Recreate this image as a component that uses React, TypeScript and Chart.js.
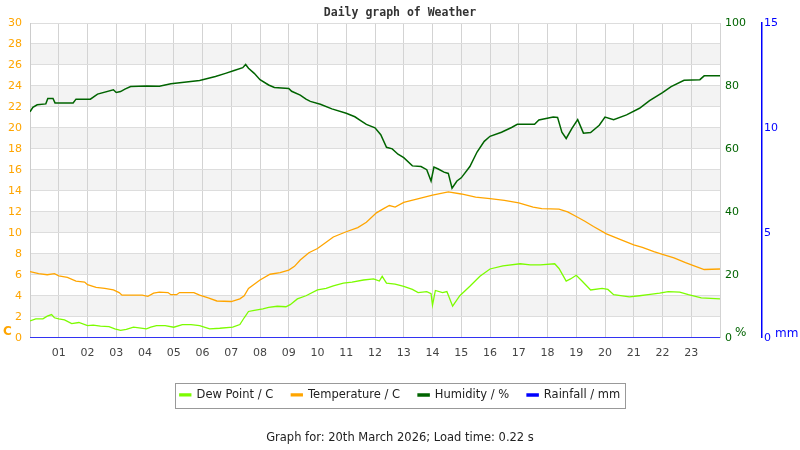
import { useEffect, useRef } from "react";
import { Chart, registerables } from "chart.js";

Chart.register(...registerables);

const tempHours = [0, 0.3, 0.6, 0.85, 1.0, 1.3, 1.6, 1.9, 2.0, 2.3, 2.6, 2.9, 3.1, 3.2, 3.5, 3.9, 4.1, 4.3, 4.5, 4.8, 4.9, 5.1, 5.2, 5.7, 5.9, 6.2, 6.5, 7.0, 7.3, 7.45, 7.6, 8.0, 8.35, 8.7, 9.0, 9.2, 9.4, 9.7, 10.0, 10.3, 10.55, 11.0, 11.4, 11.7, 12.05, 12.3, 12.5, 12.7, 13.0, 13.45, 14.0, 14.55, 15.0, 15.5, 16.0, 16.5, 17.0, 17.5, 17.8, 18.4, 18.7, 19.0, 19.3, 19.6, 20.05, 20.5, 21.0, 21.3, 21.7, 22.0, 22.4, 22.8, 23.1, 23.45, 24.0];
const tempValues = [6.3, 6.1, 6.0, 6.1, 5.9, 5.75, 5.4, 5.3, 5.05, 4.8, 4.7, 4.55, 4.3, 4.05, 4.05, 4.05, 3.95, 4.25, 4.35, 4.3, 4.1, 4.1, 4.3, 4.3, 4.05, 3.8, 3.5, 3.45, 3.7, 4.0, 4.7, 5.5, 6.05, 6.2, 6.45, 6.8, 7.4, 8.1, 8.5, 9.1, 9.6, 10.1, 10.5, 11.0, 11.9, 12.3, 12.6, 12.45, 12.9, 13.2, 13.6, 13.9, 13.7, 13.4, 13.25, 13.1, 12.85, 12.45, 12.3, 12.25, 12.0, 11.55, 11.1, 10.6, 9.9, 9.4, 8.85, 8.6, 8.2, 7.95, 7.6, 7.15, 6.85, 6.5, 6.55];

const dewHours = [0, 0.2, 0.45, 0.6, 0.75, 0.85, 1.0, 1.2, 1.45, 1.7, 2.0, 2.2, 2.45, 2.75, 2.95, 3.15, 3.35, 3.6, 4.05, 4.2, 4.4, 4.7, 5.0, 5.3, 5.6, 5.9, 6.25, 6.6, 7.05, 7.3, 7.45, 7.6, 7.8, 8.1, 8.3, 8.6, 8.9, 9.05, 9.3, 9.6, 10.0, 10.3, 10.55, 10.9, 11.2, 11.6, 11.95, 12.15, 12.25, 12.4, 12.7, 13.0, 13.3, 13.5, 13.8, 13.95, 14.0, 14.1, 14.35, 14.5, 14.7, 14.95, 15.3, 15.65, 16.0, 16.45, 17.05, 17.4, 17.75, 18.25, 18.4, 18.65, 18.8, 19.0, 19.2, 19.5, 19.9, 20.1, 20.3, 20.85, 21.2, 21.5, 21.9, 22.2, 22.6, 22.9, 23.35, 24.0];
const dewValues = [1.6, 1.8, 1.8, 2.05, 2.2, 1.9, 1.8, 1.7, 1.35, 1.45, 1.15, 1.2, 1.1, 1.05, 0.85, 0.7, 0.8, 1.0, 0.85, 1.0, 1.15, 1.15, 1.0, 1.25, 1.25, 1.15, 0.85, 0.9, 1.0, 1.25, 1.9, 2.5, 2.6, 2.75, 2.9, 3.0, 2.95, 3.15, 3.7, 4.0, 4.55, 4.7, 4.95, 5.2, 5.3, 5.5, 5.6, 5.4, 5.85, 5.2, 5.1, 4.9, 4.6, 4.3, 4.4, 4.2, 3.1, 4.5, 4.3, 4.4, 3.0, 4.0, 4.9, 5.85, 6.55, 6.85, 7.05, 6.95, 6.95, 7.05, 6.6, 5.4, 5.6, 5.95, 5.4, 4.55, 4.7, 4.6, 4.1, 3.9, 4.0, 4.1, 4.25, 4.4, 4.35, 4.1, 3.8, 3.7];

const humidityHours = [0, 0.1, 0.25, 0.55, 0.62, 0.8, 0.87, 1.5, 1.6, 2.1, 2.35, 2.9, 3.0, 3.15, 3.3, 3.5, 4.05, 4.5, 4.9, 5.9, 6.45, 6.8, 7.1, 7.4, 7.5, 7.6, 7.8, 8.0, 8.3, 8.5, 9.0, 9.1, 9.4, 9.6, 9.75, 10.1, 10.5, 11.0, 11.3, 11.5, 11.7, 12.0, 12.2, 12.4, 12.6, 12.8, 13.0, 13.3, 13.6, 13.8, 13.95, 14.05, 14.2, 14.4, 14.55, 14.68, 14.85, 15.0, 15.3, 15.55, 15.8, 16.0, 16.4, 16.75, 16.95, 17.55, 17.7, 18.2, 18.35, 18.5, 18.65, 18.85, 19.05, 19.25, 19.5, 19.8, 20.0, 20.3, 20.75, 21.2, 21.55, 22.0, 22.3, 22.75, 23.3, 23.45, 24.0];
const humidityValues = [71.8, 73.2, 74.0, 74.3, 76.0, 76.0, 74.6, 74.6, 75.8, 75.8, 77.4, 78.8, 77.9, 78.2, 79.0, 79.8, 80.0, 79.9, 80.7, 81.7, 83.0, 84.0, 84.9, 85.8, 86.8, 85.6, 84.0, 82.0, 80.3, 79.5, 79.2, 78.3, 77.1, 75.8, 75.1, 74.2, 72.7, 71.3, 70.2, 69.0, 67.8, 66.7, 64.5, 60.5, 60.0, 58.3, 57.2, 54.6, 54.4, 53.4, 49.8, 54.2, 53.6, 52.6, 52.2, 47.5, 49.8, 50.8, 54.4, 59.0, 62.4, 64.0, 65.3, 66.8, 67.8, 67.8, 69.2, 70.1, 70.0, 65.3, 63.3, 66.5, 69.3, 65.0, 65.2, 67.5, 70.1, 69.3, 70.8, 72.9, 75.3, 77.9, 79.8, 81.8, 82.0, 83.2, 83.2];

const rainHours = [0, 24];
const rainValues = [0, 0];

const hourLabels = ["01", "02", "03", "04", "05", "06", "07", "08", "09", "10", "11", "12", "13", "14", "15", "16", "17", "18", "19", "20", "21", "22", "23"];

const toPoints = (xs: number[], ys: number[]) => xs.map((x, i) => ({ x, y: ys[i] }));

// grey bands every other 2 degree step
const bandsPlugin = {
  id: "bands",
  beforeDraw(chart: any) {
    const { ctx, chartArea, scales } = chart;
    const y = scales.y;
    ctx.save();
    ctx.fillStyle = "#f3f3f3";
    for (let v = 2; v < 30; v += 4) {
      const top = y.getPixelForValue(v + 2);
      const bottom = y.getPixelForValue(v);
      ctx.fillRect(chartArea.left, top, chartArea.right - chartArea.left, bottom - top);
    }
    ctx.restore();
  },
};

const legendBoxPlugin = {
  id: "legendBox",
  afterDraw(chart: any) {
    const boxes = chart.legend?.legendHitBoxes;
    if (!boxes || !boxes.length) return;
    const ctx = chart.ctx;
    const left = Math.min(...boxes.map((b: any) => b.left)) - 5;
    const right = Math.max(...boxes.map((b: any) => b.left + b.width)) + 5;
    const top = boxes[0].top - 6.5;
    const bottom = boxes[0].top + boxes[0].height + 6.5;
    ctx.save();
    ctx.strokeStyle = "#999999";
    ctx.lineWidth = 1;
    ctx.strokeRect(Math.round(left) + 0.5, Math.round(top) + 0.5, Math.round(right - left), Math.round(bottom - top));
    ctx.restore();
  },
};

const unitsPlugin = {
  id: "units",
  afterDraw(chart: any) {
    const { ctx, chartArea, scales } = chart;
    ctx.save();
    ctx.textBaseline = "middle";
    ctx.textAlign = "left";
    ctx.font = "bold 12px 'DejaVu Sans'";
    ctx.fillStyle = "#ffa500";
    ctx.fillText("C", 3, chartArea.bottom - 5.5);
    ctx.font = "12px 'DejaVu Sans'";
    ctx.fillStyle = "#006400";
    ctx.fillText("%", chartArea.right + 15, chartArea.bottom - 4.5);
    ctx.fillStyle = "#0000ff";
    ctx.fillText("mm", scales.y2.left + 13, chartArea.bottom - 3.5);
    ctx.restore();
  },
};

function WeatherChart() {
  const chartRef = useRef<HTMLCanvasElement>(null);
  const chartInstance = useRef<Chart | null>(null);

  useEffect(() => {
    if (!chartRef.current) return;
    const ctx = chartRef.current.getContext("2d");
    if (!ctx) return;

    if (chartInstance.current) {
      chartInstance.current.destroy();
    }

    Chart.defaults.font.family = "'DejaVu Sans'";

    chartInstance.current = new Chart(ctx, {
      type: "line",
      data: {
        datasets: [
          {
            label: "Dew Point / C",
            data: toPoints(dewHours, dewValues),
            borderColor: "#7cfc00",
            backgroundColor: "#7cfc00",
            borderWidth: 1.3,
            pointRadius: 0,
            yAxisID: "y",
          },
          {
            label: "Temperature / C",
            data: toPoints(tempHours, tempValues),
            borderColor: "#ffa500",
            backgroundColor: "#ffa500",
            borderWidth: 1.3,
            pointRadius: 0,
            yAxisID: "y",
          },
          {
            label: "Humidity / %",
            data: toPoints(humidityHours, humidityValues),
            borderColor: "#006400",
            backgroundColor: "#006400",
            borderWidth: 1.5,
            pointRadius: 0,
            yAxisID: "y1",
          },
          {
            label: "Rainfall / mm",
            data: toPoints(rainHours, rainValues),
            borderColor: "#0000ff",
            backgroundColor: "#0000ff",
            borderWidth: 1.5,
            pointRadius: 0,
            yAxisID: "y2",
          },
        ],
      },
      options: {
        responsive: true,
        maintainAspectRatio: false,
        animation: false,
        layout: { padding: 0 },
        plugins: {
          title: {
            display: true,
            text: "Daily graph of Weather",
            color: "#333333",
            font: { family: "'DejaVu Sans Mono'", size: 11.5, weight: "bold" },
            padding: { top: 6.5, bottom: 2.7 },
          },
          legend: {
            position: "bottom",
            labels: {
              boxWidth: 11,
              boxHeight: 2,
              padding: 18,
              color: "#222222",
              font: { size: 11.5 },
            },
          },
          subtitle: {
            display: true,
            position: "bottom",
            text: "Graph for: 20th March 2026; Load time: 0.22 s",
            color: "#222222",
            font: { size: 11.5 },
            padding: { top: 20.5, bottom: 5 },
          },
          tooltip: { enabled: false },
        },
        scales: {
          x: {
            type: "linear",
            min: 0,
            max: 24,
            ticks: {
              stepSize: 1,
              color: "#444444",
              font: { size: 11 },
              padding: 8.5,
              autoSkip: false,
              maxRotation: 0,
              callback: (value: any) => hourLabels[Number(value) - 1] ?? "",
            },
            grid: { color: "#d3d3d3", drawTicks: false },
            border: { color: "#cccccc" },
            afterFit: (scale: any) => {
              scale.height = 33.5;
            },
          },
          y: {
            position: "left",
            min: 0,
            max: 30,
            ticks: { stepSize: 2, color: "#ffa500", font: { size: 11 }, padding: 8 },
            grid: { color: "#dddddd", drawTicks: false },
            border: { color: "#cccccc" },
            afterFit: (scale: any) => {
              scale.width = 30;
            },
          },
          y1: {
            position: "right",
            min: 0,
            max: 100,
            weight: 0,
            ticks: { stepSize: 20, color: "#006400", font: { size: 11 }, padding: 5 },
            grid: { display: false, drawTicks: false },
            border: { display: false },
            afterFit: (scale: any) => {
              scale.width = 42;
            },
          },
          y2: {
            position: "right",
            min: 0,
            max: 15,
            weight: 1,
            ticks: { stepSize: 5, color: "#0000ff", font: { size: 11 }, padding: 2 },
            grid: { display: false, drawTicks: false },
            border: { display: true, color: "#0000ff", width: 1.5 },
            afterFit: (scale: any) => {
              scale.width = 38;
            },
          },
        },
      },
      plugins: [bandsPlugin, legendBoxPlugin, unitsPlugin],
    });

    return () => {
      if (chartInstance.current) {
        chartInstance.current.destroy();
        chartInstance.current = null;
      }
    };
  }, []);

  return <canvas ref={chartRef} style={{ display: "block" }} />;
}

export default function App() {
  useEffect(() => {
    document.body.style.margin = "0";
  }, []);

  return (
    <div style={{ position: "relative", width: 800, height: 450, background: "#ffffff" }}>
      <WeatherChart />
    </div>
  );
}
